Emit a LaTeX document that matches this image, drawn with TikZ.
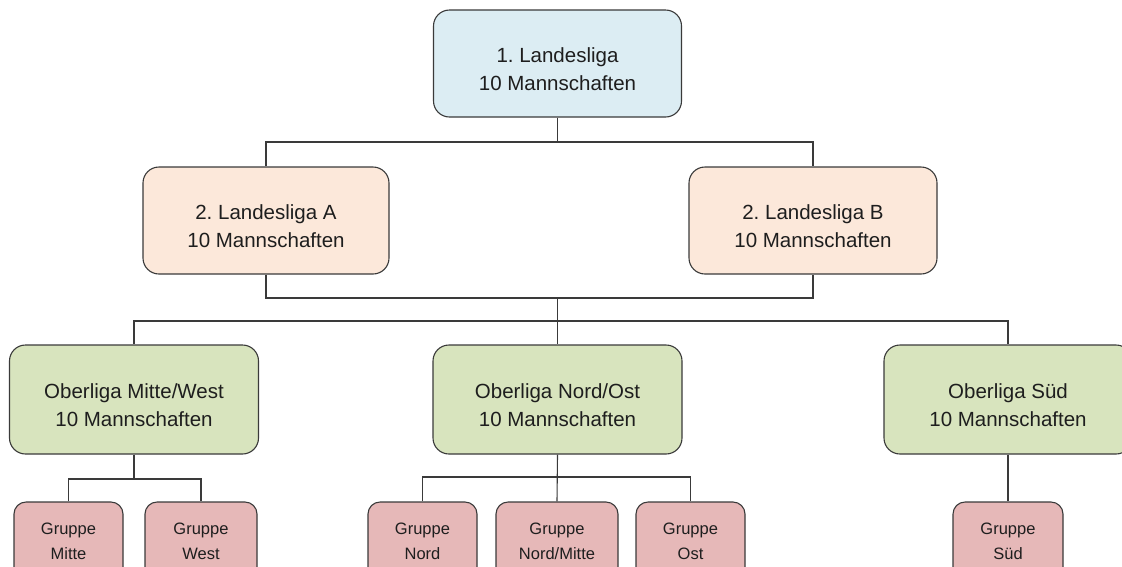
\documentclass[tikz,border=0pt]{standalone}
\usepackage{fontspec}
\setmainfont{Liberation Sans}
\definecolor{cblue}{HTML}{DCEDF3}
\definecolor{cpeach}{HTML}{FCE8DA}
\definecolor{cgreen}{HTML}{D8E4BE}
\definecolor{cpink}{HTML}{E6B8B8}
\definecolor{cline}{HTML}{3A3A3A}
\definecolor{ctext}{HTML}{1E1E1E}
\newcommand\twolines[2]{\rule{0pt}{26pt}#1\\#2}
\tikzset{
  league/.style={draw=cline, line width=1.1pt, rounded corners=16pt, align=center,
    text=ctext, font=\fontsize{20.5}{28}\selectfont, inner sep=0pt},
  grp/.style={draw=cline, line width=1.1pt, rounded corners=12pt, align=center,
    text=ctext, font=\fontsize{16.5}{25}\selectfont, inner sep=0pt,
    minimum height=78pt, fill=cpink},
  conn/.style={draw=cline, line width=1.1pt}
}
\begin{document}
\frenchspacing
\begin{tikzpicture}[x=1pt,y=-1pt]
\useasboundingbox (0,0) rectangle (1122,566);
\clip (0,0) rectangle (1122,566);
% level 1
\node[league, fill=cblue, minimum width=248pt, minimum height=107pt] (top) at (557.5,63.5) {\twolines{1. Landesliga}{10 Mannschaften}};
% level 2
\node[league, fill=cpeach, minimum width=246pt, minimum height=107pt] (la) at (266,220.5) {\twolines{2. Landesliga A}{10 Mannschaften}};
\node[league, fill=cpeach, minimum width=248pt, minimum height=107pt] (lb) at (813,220.5) {\twolines{2. Landesliga B}{10 Mannschaften}};
% level 3
\node[league, fill=cgreen, minimum width=249pt, minimum height=109pt] (omw) at (134,399.5) {\twolines{Oberliga Mitte/West}{10 Mannschaften}};
\node[league, fill=cgreen, minimum width=249pt, minimum height=109pt] (ono) at (557.5,399.5) {\twolines{Oberliga Nord/Ost}{10 Mannschaften}};
\node[league, fill=cgreen, minimum width=248pt, minimum height=109pt] (os) at (1008,399.5) {\twolines{Oberliga Süd}{10 Mannschaften}};
% level 4
\node[grp, minimum width=109pt] (gm) at (68.5,541) {Gruppe\\Mitte};
\node[grp, minimum width=112pt] (gw) at (201,541) {Gruppe\\West};
\node[grp, minimum width=109pt] (gn) at (422.5,541) {Gruppe\\Nord};
\node[grp, minimum width=122pt] (gnm) at (557,541) {Gruppe\\Nord/Mitte};
\node[grp, minimum width=109pt] (go) at (690.5,541) {Gruppe\\Ost};
\node[grp, minimum width=110pt] (gs) at (1008,541) {Gruppe\\Süd};
% junctions
\coordinate (j1) at (557.5,142);
\coordinate (j2) at (557.5,298);
\coordinate (j3) at (557.5,321);
\coordinate (j4) at (134,479);
\coordinate (j5) at (557.5,477);
% connectors
\draw[conn] (top.south) -- (j1);
\draw[conn] (la.north) |- (j1) -| (lb.north);
\draw[conn] (la.south) |- (j2) -| (lb.south);
\draw[conn] (j2) -- (j3);
\draw[conn] (omw.north) |- (j3) -| (os.north);
\draw[conn] (j3) -- (ono.north);
\draw[conn] (omw.south) -- (j4);
\draw[conn] (gm.north) |- (j4) -| (gw.north);
\draw[conn] (ono.south) -- (gnm.north);
\draw[conn] (gn.north) |- (j5) -| (go.north);
\draw[conn] (os.south) -- (gs.north);
\end{tikzpicture}
\end{document}
